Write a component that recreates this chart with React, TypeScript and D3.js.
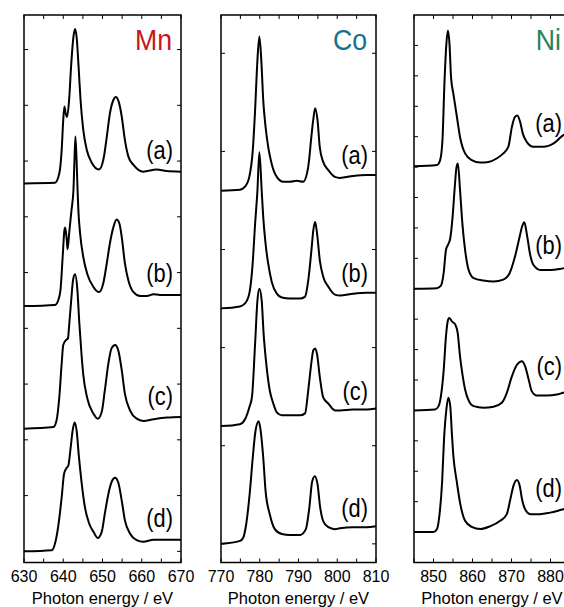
import React, { useEffect, useRef } from "react";
import * as d3 from "d3";

const W = 564;
const H = 607;

// sample labels and element names
const sampleLabels = ["(a)", "(b)", "(c)", "(d)"];
const elements = ["Mn", "Co", "Ni"];
const elementColors = ["#c8161d", "#16708f", "#2a8058"];

// energy ranges (eV) and tick labels
const mnRange = [630, 670];
const coRange = [770, 810];
const niRange = [845, 885];
const mnTickLabels = [630, 640, 650, 660, 670];
const coTickLabels = [770, 780, 790, 800, 810];
const niTickLabels = [850, 860, 870, 880];

// vertical offsets of (a)..(d), in each panel's intensity units
const mnOffsets = [6.6, 4.4, 2.2, 0];
const coOffsets = [3.6, 2.4, 1.2, 0];
const niOffsets = [13, 9, 5, 1];

// Mn L-edge spectra [energy, intensity]
const mnA = [[630,0],[637.9,0.01],[639.0,0.18],[639.6,0.6],[640.0,1.14],[640.3,1.38],[640.6,1.26],[640.95,1.19],[641.5,1.5],[642.0,2.1],[642.6,2.63],[643.0,2.77],[643.4,2.63],[643.9,2.1],[644.4,1.5],[645.1,0.96],[646.0,0.6],[647.2,0.38],[649.1,0.25],[650.2,0.42],[651.1,0.84],[651.9,1.26],[652.8,1.5],[653.4,1.55],[654.1,1.47],[654.9,1.2],[655.7,0.78],[656.6,0.48],[657.9,0.33],[660.4,0.21],[663.8,0.25],[666.3,0.22],[670,0.21]];
const mnB = [[630,0],[637.9,0.02],[638.7,0.1],[639.3,0.29],[639.85,0.88],[640.3,1.36],[640.5,1.41],[640.9,1.18],[641.1,1.02],[641.5,1.3],[642.1,1.72],[642.6,2.08],[642.8,2.5],[643.1,3.04],[643.45,2.5],[643.65,2.08],[643.85,1.72],[644.3,1.3],[645.1,0.88],[646.1,0.58],[647.7,0.34],[649.1,0.25],[650.2,0.41],[651.1,0.77],[651.9,1.13],[652.8,1.42],[653.6,1.55],[654.3,1.48],[654.9,1.24],[655.7,0.77],[656.6,0.46],[657.9,0.25],[659.6,0.18],[661.3,0.18],[663.0,0.21],[664.6,0.2],[670,0.2]];
const mnC = [[630,0],[637.5,0.03],[638.3,0.15],[639.0,0.57],[639.6,1.17],[640.0,1.5],[640.7,1.59],[641.2,1.62],[641.5,1.85],[642.1,2.37],[642.5,2.67],[643.0,2.77],[643.6,2.49],[644.1,1.89],[644.7,1.29],[645.1,0.97],[646.1,0.55],[647.7,0.27],[648.8,0.18],[649.8,0.3],[650.6,0.69],[651.5,1.17],[652.3,1.44],[653.2,1.5],[654.0,1.41],[654.9,1.05],[655.7,0.63],[657.0,0.33],[658.7,0.18],[660.4,0.14],[663.0,0.17],[666.4,0.2],[670,0.21]];
const mnD = [[630,0],[637.1,0.02],[637.9,0.14],[638.7,0.44],[639.6,0.97],[640.2,1.39],[640.7,1.48],[641.3,1.54],[641.9,1.87],[642.4,2.17],[642.9,2.31],[643.4,2.17],[644.0,1.69],[644.7,1.22],[645.5,0.8],[646.6,0.5],[647.7,0.35],[648.8,0.24],[649.8,0.35],[650.6,0.68],[651.5,1.03],[652.3,1.24],[653.2,1.32],[654.0,1.24],[654.9,0.91],[655.7,0.56],[657.0,0.32],[658.7,0.2],[660.4,0.17],[663.0,0.21],[666.4,0.21],[670,0.21]];

// Co L-edge spectra
const coA = [[770,0],[774.9,0.01],[776.2,0.04],[777.3,0.14],[778.2,0.41],[778.8,0.82],[779.4,1.33],[779.9,1.57],[780.4,1.33],[780.9,0.92],[781.5,0.65],[782.2,0.44],[783.1,0.27],[784.4,0.14],[786.1,0.09],[787.8,0.09],[789.5,0.1],[791.2,0.09],[792.5,0.24],[793.4,0.58],[793.8,0.72],[794.3,0.84],[794.9,0.72],[795.5,0.44],[796.4,0.29],[797.7,0.21],[799.4,0.14],[800.7,0.13],[804.1,0.15],[807.6,0.16],[810,0.16]];
const coB = [[770,0],[774.9,0.02],[776.2,0.05],[777.3,0.15],[778.1,0.42],[778.8,0.86],[779.4,1.2],[779.9,1.59],[780.5,1.2],[780.9,0.93],[781.5,0.66],[782.2,0.45],[783.1,0.27],[784.4,0.15],[785.7,0.11],[787.8,0.1],[790.4,0.1],[791.7,0.12],[792.5,0.28],[793.4,0.62],[793.8,0.79],[794.3,0.88],[794.8,0.76],[795.5,0.49],[796.4,0.32],[797.7,0.22],[799.4,0.14],[800.7,0.13],[804.1,0.15],[807.6,0.16],[810,0.16]];
const coC = [[770,0],[774.9,0.02],[776.2,0.07],[777.3,0.19],[778.0,0.3],[778.8,0.84],[779.4,1.28],[779.9,1.4],[780.5,1.28],[781.0,0.94],[781.7,0.63],[782.6,0.36],[783.5,0.23],[784.4,0.14],[785.7,0.11],[787.8,0.11],[790.4,0.11],[791.7,0.13],[792.5,0.36],[793.4,0.67],[793.8,0.77],[794.3,0.79],[794.8,0.73],[795.5,0.5],[796.4,0.29],[797.7,0.23],[799.4,0.16],[800.7,0.16],[804.1,0.17],[807.6,0.17],[810,0.18]];
const coD = [[770,0],[774.9,0.03],[775.7,0.06],[776.5,0.2],[777.4,0.51],[778.2,0.88],[778.9,1.15],[779.7,1.25],[780.1,1.19],[780.9,0.88],[781.5,0.54],[782.6,0.3],[783.9,0.15],[785.7,0.1],[787.8,0.09],[790.4,0.09],[791.9,0.15],[792.8,0.37],[793.5,0.63],[794.2,0.69],[794.9,0.61],[795.6,0.37],[796.4,0.23],[797.7,0.17],[799.4,0.15],[800.7,0.16],[804.1,0.17],[807.6,0.17],[810,0.18]];

// Ni L-edge spectra
const niA = [[845,0.03],[850.9,0.07],[851.7,0.23],[852.3,0.89],[852.8,2.74],[853.3,4.05],[853.7,4.49],[854.1,4.05],[854.5,2.95],[855.1,2.41],[856.0,1.65],[856.8,0.99],[858.1,0.45],[859.8,0.23],[862.0,0.15],[864.1,0.17],[866.3,0.29],[867.9,0.45],[869.2,0.67],[870.1,1.32],[870.9,1.65],[871.5,1.7],[872.2,1.49],[872.9,1.1],[873.9,0.83],[875.6,0.67],[878.2,0.67],[880.8,0.78],[883.3,1.05],[885,1.15]];
const niB = [[845,0],[850.9,0.02],[851.9,0.1],[852.6,0.51],[853.2,1.28],[853.7,1.44],[854.3,1.66],[854.9,2.37],[855.4,3.25],[855.9,4.0],[856.25,4.12],[856.8,3.25],[857.4,2.15],[858.1,1.28],[859.0,0.62],[860.3,0.35],[862.8,0.27],[865.4,0.24],[867.9,0.3],[869.5,0.51],[870.9,1.06],[872.1,1.72],[872.7,2.04],[873.3,2.19],[873.9,1.82],[874.8,1.11],[875.6,0.79],[877.4,0.62],[880.0,0.62],[883.3,0.67],[885,0.7]];
const niC = [[845,0],[850.4,0.03],[851.3,0.14],[851.9,0.47],[852.6,1.3],[853.2,2.44],[853.6,2.9],[854.0,3.04],[854.7,2.93],[855.6,2.82],[856.2,2.55],[856.8,1.78],[857.5,1.12],[858.1,0.69],[859.0,0.33],[860.3,0.14],[862.8,0.09],[865.4,0.12],[867.5,0.25],[868.8,0.58],[870.1,1.12],[871.4,1.5],[872.7,1.62],[873.5,1.45],[874.4,1.02],[875.2,0.63],[876.5,0.49],[879.1,0.49],[881.6,0.52],[883.3,0.58],[885,0.62]];
const niD = [[845,0],[850,0],[850.9,0.1],[851.5,0.53],[852.2,1.63],[852.7,3.05],[853.3,4.03],[853.8,4.42],[854.3,4.14],[854.7,3.27],[855.1,2.5],[856.0,1.63],[856.8,0.97],[858.1,0.37],[859.8,0.17],[862.0,0.1],[864.5,0.19],[867.1,0.37],[868.8,0.59],[869.7,1.08],[870.5,1.52],[871.4,1.71],[872.1,1.52],[872.7,1.08],[873.5,0.75],[874.8,0.59],[877.3,0.59],[879.9,0.64],[883.3,0.75],[885,0.8]];

const font = "'Liberation Sans', Arial, Helvetica, sans-serif";

export default function App() {
  const ref = useRef<SVGSVGElement>(null);

  useEffect(() => {
    const svg = d3.select(ref.current);
    svg.selectAll("*").remove();

    const top = 15;
    const bottom = 562.5;
    const panels = [
      { left: 24, width: 157, range: mnRange, ticks: mnTickLabels, yDomain: [-0.2, 9.62], yTicks: d3.range(0, 10), offsets: mnOffsets, spectra: [mnA, mnB, mnC, mnD], lift: 0.43 },
      { left: 221, width: 155, range: coRange, ticks: coTickLabels, yDomain: [-0.19, 5.39], yTicks: d3.range(0, 6), offsets: coOffsets, spectra: [coA, coB, coC, coD], lift: 0.27 },
      { left: 414, width: 156, range: niRange, ticks: niTickLabels, yDomain: [0, 18], yTicks: d3.range(1, 18), offsets: niOffsets, spectra: [niA, niB, niC, niD], lift: 1.15 },
    ];

    panels.forEach((p, i) => {
      const x = d3.scaleLinear().domain(p.range).range([p.left, p.left + p.width]);
      const y = d3.scaleLinear().domain(p.yDomain).range([bottom, top]);
      const g = svg.append("g");

      // frame
      g.append("rect")
        .attr("x", p.left)
        .attr("y", top)
        .attr("width", p.width)
        .attr("height", bottom - top)
        .attr("fill", "none")
        .attr("stroke", "#000")
        .attr("stroke-width", 1.5);

      // x ticks every 5 eV, top and bottom, inward
      const xt = d3.range(p.range[0], p.range[1] + 0.01, 5);
      xt.forEach((v) => {
        g.append("line").attr("x1", x(v)).attr("x2", x(v)).attr("y1", bottom).attr("y2", bottom - 4).attr("stroke", "#000").attr("stroke-width", 1);
        g.append("line").attr("x1", x(v)).attr("x2", x(v)).attr("y1", top).attr("y2", top + 4).attr("stroke", "#000").attr("stroke-width", 1);
      });
      // y ticks, left and right, inward
      p.yTicks.forEach((v) => {
        g.append("line").attr("x1", p.left).attr("x2", p.left + 4).attr("y1", y(v)).attr("y2", y(v)).attr("stroke", "#000").attr("stroke-width", 1);
        g.append("line").attr("x1", p.left + p.width).attr("x2", p.left + p.width - 4).attr("y1", y(v)).attr("y2", y(v)).attr("stroke", "#000").attr("stroke-width", 1);
      });

      // tick labels
      g.selectAll(".tl")
        .data(p.ticks)
        .join("text")
        .attr("x", (d) => x(d))
        .attr("y", 582)
        .attr("text-anchor", "middle")
        .attr("font-family", font)
        .attr("font-size", 16)
        .attr("fill", "#000")
        .text((d) => d);

      // axis title
      g.append("text")
        .attr("x", p.left + p.width / 2)
        .attr("y", 604)
        .attr("text-anchor", "middle")
        .attr("font-family", font)
        .attr("font-size", 16.5)
        .attr("fill", "#000")
        .text("Photon energy / eV");

      // spectra
      const line = d3
        .line<number[]>()
        .x((d) => x(d[0]))
        .curve(d3.curveMonotoneX);
      p.spectra.forEach((s, k) => {
        const off = p.offsets[k];
        g.append("path")
          .datum(s)
          .attr("d", line.y((d) => y(d[1] + off))(s) as string)
          .attr("fill", "none")
          .attr("stroke", "#000")
          .attr("stroke-width", 2)
          .attr("stroke-linejoin", "round");

        g.append("text")
          .attr("transform", `translate(${p.left + p.width - 8},${y(off + p.lift)}) scale(0.84,1)`)
          .attr("text-anchor", "end")
          .attr("font-family", font)
          .attr("font-size", 26)
          .attr("fill", "#000")
          .text(sampleLabels[k]);
      });

      // element label
      g.append("text")
        .attr("transform", `translate(${p.left + p.width - 9},50) scale(0.89,1)`)
        .attr("text-anchor", "end")
        .attr("font-family", font)
        .attr("font-size", 30)
        .attr("fill", elementColors[i])
        .text(elements[i]);
    });
  }, []);

  return (
    <svg
      ref={ref}
      width={W}
      height={H}
      style={{ position: "absolute", left: 0, top: 0, background: "#fff" }}
    />
  );
}
